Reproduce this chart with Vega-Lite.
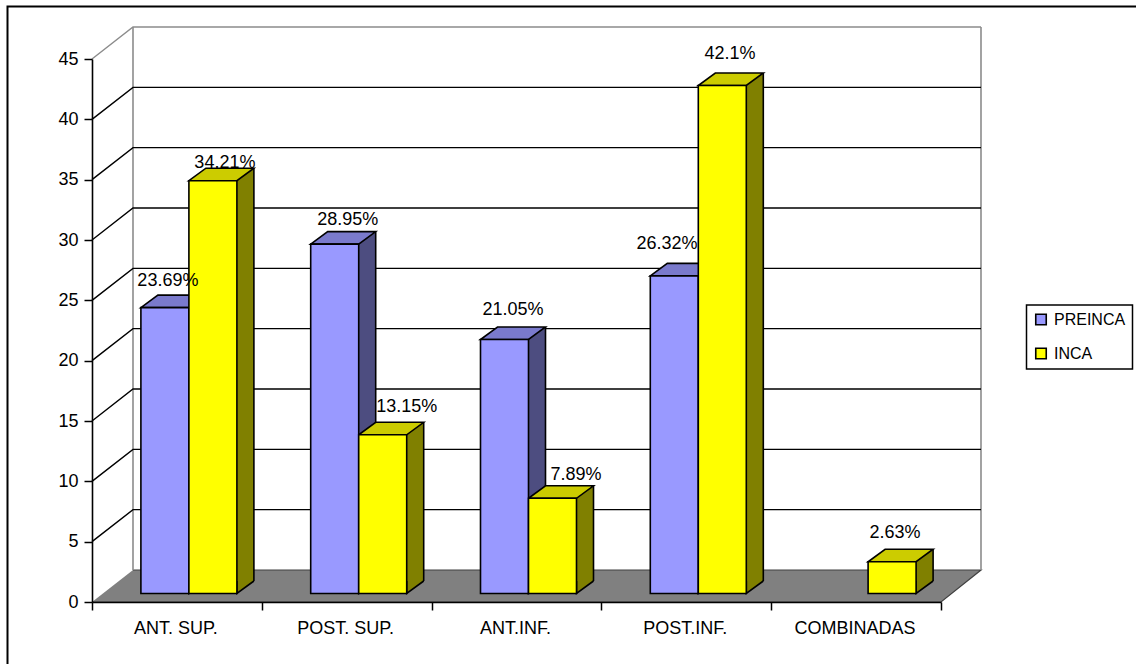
{
"$schema":"https://vega.github.io/schema/vega-lite/v6.json",
"width":849,"height":543,
"autosize":"none",
"padding":{"left":92,"top":59,"right":195,"bottom":62},
"background":"white",
"config":{"view":{"stroke":null},"font":"Liberation Sans","legend":{"strokeWidth":1.5}},
"resolve":{"scale":{"x":"independent","xOffset":"independent"}},
"datasets":{
"bars":[
{"a":"ANT. SUP.","s":"PREINCA","value":23.69,"label":"23.69%"},
{"a":"ANT. SUP.","s":"INCA","value":34.21,"label":"34.21%"},
{"a":"POST. SUP.","s":"PREINCA","value":28.95,"label":"28.95%"},
{"a":"POST. SUP.","s":"INCA","value":13.15,"label":"13.15%"},
{"a":"ANT.INF.","s":"PREINCA","value":21.05,"label":"21.05%"},
{"a":"ANT.INF.","s":"INCA","value":7.89,"label":"7.89%"},
{"a":"POST.INF.","s":"PREINCA","value":26.32,"label":"26.32%"},
{"a":"POST.INF.","s":"INCA","value":42.1,"label":"42.1%"},
{"a":"COMBINADAS","s":"INCA","value":2.63,"label":"2.63%"}
],
"grid":[{"v":5},{"v":10},{"v":15},{"v":20},{"v":25},{"v":30},{"v":35},{"v":40},{"v":45}]
},
"layer":[
{"data":{"values":[{"f":1}]},
 "mark":{"type":"rect","fill":null,"stroke":"#000000","strokeWidth":2,"clip":false},
 "encoding":{"x":{"value":-84.5},"x2":{"value":1100},"y":{"value":-52.5},"y2":{"value":640}}},
{"data":{"values":[{"v":0}]},
 "mark":{"type":"point","filled":true,"size":4,"fill":"#808080","stroke":"#404040","strokeWidth":1.2,"opacity":1,"shape":"M41,-32 L889,-32 L849,0 L0,0"},
 "encoding":{"x":{"value":0},"y":{"field":"v","type":"quantitative"}}},
{"data":{"values":[{"v":0}]},
 "mark":{"type":"point","filled":false,"size":4,"stroke":"#8c8c8c","strokeWidth":1.6,"opacity":1,"shape":"M41,-32 L41,-575 M889,-32 L889,-575"},
 "encoding":{"x":{"value":0},"y":{"field":"v","type":"quantitative"}}},
{"data":{"name":"grid"},
 "mark":{"type":"point","filled":false,"size":4,"strokeWidth":1.4,"opacity":1,"shape":"M0,0 L41,-32 L889,-32"},
 "encoding":{"x":{"value":0},"y":{"field":"v","type":"quantitative"},
  "stroke":{"condition":{"test":"datum.v===45","value":"#8c8c8c"},"value":"#000000"}}},
{"data":{"name":"bars"},
 "mark":{"type":"point","opacity":0},
 "encoding":{
   "x":{"field":"a","type":"nominal","sort":null,
     "scale":{"domain":["ANT. SUP.","POST. SUP.","ANT.INF.","POST.INF.","COMBINADAS"],"range":[0,849],"paddingInner":0,"paddingOuter":0},
     "axis":{"title":null,"tickBand":"extent","labelAngle":0,"labelFontSize":18,"labelColor":"#000000","labelPadding":9,"labelOffset":-1.5,"tickSize":8,"tickColor":"#000000","domainColor":"#000000","domainWidth":1.6,"tickWidth":1.5,"labelFont":"Liberation Sans","grid":false,"zindex":1}},
   "y":{"field":"value","type":"quantitative",
     "scale":{"domain":[0,45],"nice":false},
     "axis":{"title":null,"values":[0,5,10,15,20,25,30,35,40,45],"labelFontSize":18,"labelColor":"#000000","labelPadding":6,"tickSize":8,"tickColor":"#000000","domainColor":"#000000","domainWidth":1.6,"tickWidth":1.5,"labelFont":"Liberation Sans","grid":false,"zindex":1}}}},
{"data":{"name":"bars"},
 "mark":{"type":"bar","yOffset":-21,"y2Offset":-21},
 "encoding":{
   "x":{"field":"a","type":"nominal","sort":null,"axis":null,"scale":{"domain":["ANT. SUP.","POST. SUP.","ANT.INF.","POST.INF.","COMBINADAS"],"range":[29,878],"paddingInner":0.4346,"paddingOuter":0.2173}},
   "xOffset":{"field":"s","type":"nominal","scale":{"type":"band","domain":["PREINCA","INCA"],"paddingInner":0,"paddingOuter":0}},
   "y":{"field":"value","type":"quantitative"},"y2":{"datum":0},
   "fill":{"condition":{"test":"datum.s==='INCA'","value":"#808000"},"value":"#4D4D80"}}},
{"data":{"name":"bars"},
 "mark":{"type":"rule","stroke":"#000000","strokeWidth":1.6,"yOffset":-21,"y2Offset":-21},
 "encoding":{
   "x":{"field":"a","type":"nominal","sort":null,"axis":null,"scale":{"domain":["ANT. SUP.","POST. SUP.","ANT.INF.","POST.INF.","COMBINADAS"],"range":[53,902],"paddingInner":0.4346,"paddingOuter":0.2173}},
   "xOffset":{"field":"s","type":"nominal","scale":{"type":"band","domain":["PREINCA","INCA"],"paddingInner":0,"paddingOuter":0}},
   "y":{"field":"value","type":"quantitative"},"y2":{"datum":0}}},
{"data":{"name":"bars"},
 "mark":{"type":"point","filled":true,"size":4,"strokeWidth":1.6,"stroke":"#000000","opacity":1,"shape":"M36,-21 L36,-8.5 L53,-21"},
 "encoding":{
   "x":{"field":"a","type":"nominal","sort":null,"axis":null,"scale":{"domain":["ANT. SUP.","POST. SUP.","ANT.INF.","POST.INF.","COMBINADAS"],"range":[0,849],"paddingInner":0.4346,"paddingOuter":0.2173}},
   "xOffset":{"field":"s","type":"nominal","scale":{"type":"band","domain":["PREINCA","INCA"],"paddingInner":0,"paddingOuter":0}},
   "y":{"datum":0},
   "fill":{"condition":{"test":"datum.s==='INCA'","value":"#808000"},"value":"#4D4D80"}}},
{"data":{"name":"bars"},
 "mark":{"type":"point","filled":true,"size":4,"strokeWidth":1.6,"stroke":"#000000","opacity":1,"shape":"M-12,-8.5 L36,-8.5 L53,-21 L5,-21 Z"},
 "encoding":{
   "x":{"field":"a","type":"nominal","sort":null,"axis":null,"scale":{"domain":["ANT. SUP.","POST. SUP.","ANT.INF.","POST.INF.","COMBINADAS"],"range":[0,849],"paddingInner":0.4346,"paddingOuter":0.2173}},
   "xOffset":{"field":"s","type":"nominal","scale":{"type":"band","domain":["PREINCA","INCA"],"paddingInner":0,"paddingOuter":0}},
   "y":{"field":"value","type":"quantitative"},
   "fill":{"condition":{"test":"datum.s==='INCA'","value":"#CCCC00"},"value":"#7A7ACC"}}},
{"data":{"name":"bars"},
 "mark":{"type":"bar","yOffset":-8.5,"y2Offset":-8.5,"stroke":"#000000","strokeWidth":1.6},
 "encoding":{
   "x":{"field":"a","type":"nominal","sort":null,"axis":null,"scale":{"domain":["ANT. SUP.","POST. SUP.","ANT.INF.","POST.INF.","COMBINADAS"],"range":[12,861],"paddingInner":0.4346,"paddingOuter":0.2173}},
   "xOffset":{"field":"s","type":"nominal","scale":{"type":"band","domain":["PREINCA","INCA"],"paddingInner":0,"paddingOuter":0}},
   "y":{"field":"value","type":"quantitative"},
   "y2":{"datum":0},
   "color":{"field":"s","type":"nominal",
     "scale":{"domain":["PREINCA","INCA"],"range":["#9999FF","#FFFF00"]},
     "legend":{"title":null,"orient":"none","legendX":934.5,"legendY":246,"strokeColor":"#000000","fillColor":"#ffffff","padding":6.5,"symbolType":"square","symbolSize":110,"symbolStrokeColor":"#000000","symbolStrokeWidth":1.6,"labelFontSize":16,"labelColor":"#000000","labelFont":"Liberation Sans","rowPadding":16,"labelOffset":5,"symbolOpacity":1}}}},
{"data":{"name":"bars"},
 "mark":{"type":"text","font":"Liberation Sans","fontSize":18,"fill":"#000000","align":"center","baseline":"middle",
   "dx":{"expr":"{'23.69':15,'34.21':24,'28.95':25,'13.15':36,'21.05':20.5,'7.89':35.5,'26.32':4.7,'42.1':19.7,'2.63':15}[datum.value]"},
   "dy":{"expr":"{'23.69':-35,'34.21':-26,'28.95':-33,'13.15':-36,'21.05':-38,'7.89':-32,'26.32':-40,'42.1':-40,'2.63':-37}[datum.value]"}},
 "encoding":{
   "x":{"field":"a","type":"nominal","sort":null,"axis":null,"scale":{"domain":["ANT. SUP.","POST. SUP.","ANT.INF.","POST.INF.","COMBINADAS"],"range":[0,849],"paddingInner":0.4346,"paddingOuter":0.2173}},
   "xOffset":{"field":"s","type":"nominal","scale":{"type":"band","domain":["PREINCA","INCA"],"paddingInner":0,"paddingOuter":0}},
   "y":{"field":"value","type":"quantitative"},"text":{"field":"label","type":"nominal"}}}
]
}
